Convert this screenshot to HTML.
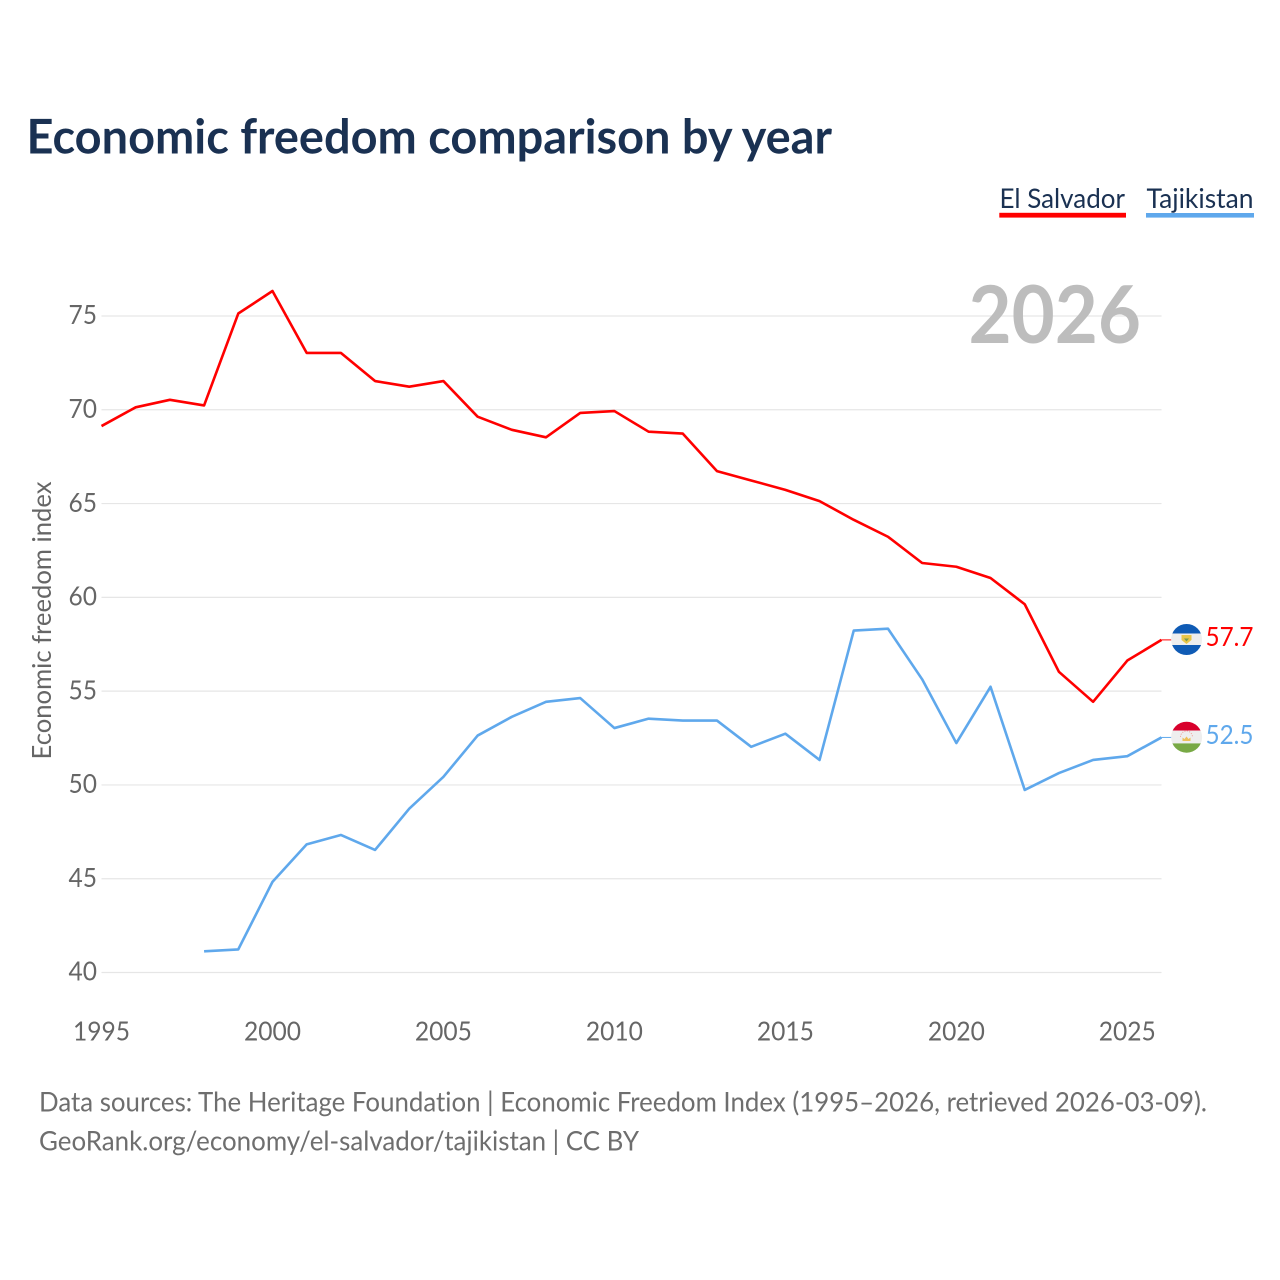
<!DOCTYPE html>
<html lang="en">
<head>
<meta charset="utf-8">
<title>Economic freedom comparison by year</title>
<style>
html,body{margin:0;padding:0;background:#fff;width:1280px;height:1280px;overflow:hidden}
svg{display:block}
text{font-family:"Lato","Carlito","Liberation Sans",sans-serif;font-variant-ligatures:none}
</style>
</head>
<body>
<svg id="chart" xmlns="http://www.w3.org/2000/svg" width="1280" height="1280" viewBox="0 0 1280 1280">
  <defs>
    <clipPath id="flag-clip-sv"><circle cx="1186.6" cy="639.5" r="15.5"/></clipPath>
    <clipPath id="flag-clip-tj"><circle cx="1186.6" cy="737.2" r="15.5"/></clipPath>
  </defs>
  <text x="26.5" y="153.5" font-size="48" font-weight="700" fill="#1a3152" textLength="805.5" lengthAdjust="spacingAndGlyphs">Economic freedom comparison by year</text>
  <g>
    <g>
      <text x="999.5" y="208" font-size="27" fill="#1a3152" textLength="125.5" lengthAdjust="spacingAndGlyphs">El Salvador</text>
      <rect x="999.3" y="212.8" width="126.7" height="4.8" fill="#ff0000"/>
    </g>
    <g>
      <text x="1146.5" y="208" font-size="27" fill="#1a3152" textLength="107" lengthAdjust="spacingAndGlyphs">Tajikistan</text>
      <rect x="1146" y="213" width="108" height="4.6" fill="#5fa8ec"/>
    </g>
  </g>
  <g id="grid"></g>
  <text x="968.5" y="343" font-size="80" font-weight="700" fill="#bdbdbd" textLength="172.5" lengthAdjust="spacingAndGlyphs">2026</text>
  <g id="yticks"></g>
  <g id="xticks"></g>
  <text transform="translate(51 759.5) rotate(-90)" x="0" y="0" font-size="26" fill="#666666" textLength="278" lengthAdjust="spacingAndGlyphs">Economic freedom index</text>
  <g id="series" transform="translate(0 -0.6)"></g>
  <g clip-path="url(#flag-clip-sv)">
    <rect x="1170" y="623" width="33" height="10.5" fill="#0f5bb5"/>
    <rect x="1170" y="633.5" width="33" height="11.5" fill="#eeeeee"/>
    <rect x="1170" y="645" width="33" height="11" fill="#0f5bb5"/>
    <path d="M1181.5 635 L1191.5 635 L1191.5 640 L1186.5 644 L1181.5 640 Z" fill="#e8c64a"/>
    <path d="M1184 638.5 L1189 638.5 L1186.5 641.5 Z" fill="#7a9a50"/>
  </g>
  <g clip-path="url(#flag-clip-tj)">
    <rect x="1170" y="721" width="33" height="9.6" fill="#d8002c"/>
    <rect x="1170" y="730.6" width="33" height="12.8" fill="#eeeeee"/>
    <rect x="1170" y="743.4" width="33" height="10" fill="#78a945"/>
    <path d="M1182.5 741 L1182.5 737.5 L1184.5 739 L1186.5 736.5 L1188.5 739 L1190.5 737.5 L1190.5 741 Z" fill="#eec05a"/>
    <path d="M1180.5 737 A6 6 0 0 1 1192.5 737" fill="none" stroke="#f0a8a0" stroke-width="1" stroke-dasharray="1.2 1.2"/>
  </g>
  <text x="1205.5" y="646" font-size="26" fill="#ff0000" textLength="48" lengthAdjust="spacingAndGlyphs">57.7</text>
  <text x="1205.5" y="744" font-size="26" fill="#5fa8ec" textLength="48" lengthAdjust="spacingAndGlyphs">52.5</text>
  <text x="39" y="1111.5" font-size="27" fill="#6e6e6e" textLength="1168" lengthAdjust="spacingAndGlyphs">Data sources: The Heritage Foundation | Economic Freedom Index (1995–2026, retrieved 2026-03-09).</text>
  <text x="39" y="1150.5" font-size="27" fill="#6e6e6e" textLength="600" lengthAdjust="spacingAndGlyphs">GeoRank.org/economy/el-salvador/tajikistan | CC BY</text>
</svg>
<script>
const startYear = 1995;
const elSalvadorValues = [69.1, 70.1, 70.5, 70.2, 75.1, 76.3, 73.0, 73.0, 71.5, 71.2, 71.5, 69.6, 68.9, 68.5, 69.8, 69.9, 68.8, 68.7, 66.7, 66.2, 65.7, 65.1, 64.1, 63.2, 61.8, 61.6, 61.0, 59.6, 56.0, 54.4, 56.6, 57.7];
const tajikistanValues = [null, null, null, 41.1, 41.2, 44.8, 46.8, 47.3, 46.5, 48.7, 50.4, 52.6, 53.6, 54.4, 54.6, 53.0, 53.5, 53.4, 53.4, 52.0, 52.7, 51.3, 58.2, 58.3, 55.6, 52.2, 55.2, 49.7, 50.6, 51.3, 51.5, 52.5];
const yTickValues = [40, 45, 50, 55, 60, 65, 70, 75];
const xTickValues = [1995, 2000, 2005, 2010, 2015, 2020, 2025];

const NS = 'http://www.w3.org/2000/svg';
function xScale(year) { return 101.5 + (year - 1995) * (1161.5 - 101.5) / 31; }
function yScale(value) { return 972.5 - (value - 40) * (972.5 - 316) / 35; }
function make(tag, attrs, parent) {
  const el = document.createElementNS(NS, tag);
  Object.keys(attrs).forEach(function (k) { el.setAttribute(k, attrs[k]); });
  parent.appendChild(el);
  return el;
}
const gridGroup = document.getElementById('grid');
const yGroup = document.getElementById('yticks');
const xGroup = document.getElementById('xticks');
const seriesGroup = document.getElementById('series');

yTickValues.forEach(function (v) {
  const line = make('line', { x1: 101.5, x2: 1161.5, y1: yScale(v), y2: yScale(v), stroke: '#e6e6e6', 'stroke-width': 1.2 }, gridGroup);
  
  
  const label = make('text', { x: 97, y: yScale(v) + 8.2, 'text-anchor': 'end', 'font-size': 26.5, fill: '#666666', textLength: 28.5, lengthAdjust: 'spacingAndGlyphs' }, yGroup);
  label.textContent = String(v);
  
  
});
xTickValues.forEach(function (y) {
  const label = make('text', { x: xScale(y), y: 1040.3, 'text-anchor': 'middle', 'font-size': 26.5, fill: '#666666', textLength: 57, lengthAdjust: 'spacingAndGlyphs' }, xGroup);
  label.textContent = String(y);
  
  
});
function linePath(values) {
  let d = '';
  values.forEach(function (v, i) {
    if (v === null) return;
    d += (d ? 'L' : 'M') + xScale(startYear + i).toFixed(2) + ' ' + yScale(v).toFixed(2);
  });
  return d;
}
const salvadorLine = make('path', { d: linePath(elSalvadorValues), fill: 'none', stroke: '#ff0000', 'stroke-width': 2.6, 'stroke-linejoin': 'round' }, seriesGroup);


const tajikLine = make('path', { d: linePath(tajikistanValues), fill: 'none', stroke: '#5fa8ec', 'stroke-width': 2.6, 'stroke-linejoin': 'round' }, seriesGroup);


const salvadorConnector = make('line', { x1: xScale(2026), x2: 1172, y1: yScale(57.7), y2: yScale(57.7), stroke: '#ff0000', 'stroke-width': 1 }, seriesGroup);


const tajikConnector = make('line', { x1: xScale(2026), x2: 1172, y1: yScale(52.5), y2: yScale(52.5), stroke: '#5fa8ec', 'stroke-width': 1 }, seriesGroup);


</script>
</body>
</html>
